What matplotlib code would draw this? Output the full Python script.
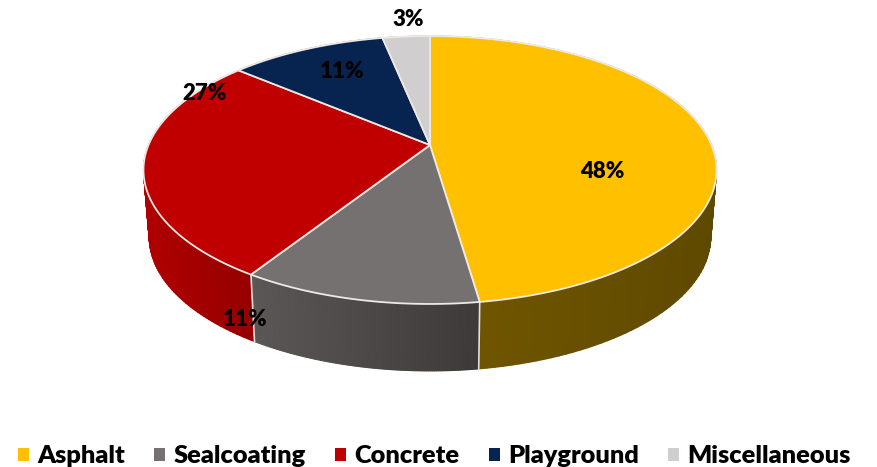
import numpy as np
import matplotlib
matplotlib.use("Agg")
import matplotlib.pyplot as plt
from matplotlib.colors import LinearSegmentedColormap
from matplotlib.patches import Polygon, Patch

categories = ["Asphalt", "Sealcoating", "Concrete", "Playground", "Miscellaneous"]
shares = [47.7, 11.3, 27.2, 10.6, 3.2]

colors = ["#FFC000", "#767171", "#C00000", "#07234F", "#D0CECE"]
# wall colour at the left and the right end of each slice's side
wall_colors = [("#735800", "#5F4900"), ("#5C5757", "#3E3A3A"), ("#B00000", "#960000"),
               ("#04142E", "#04142E"), ("#7D7C7C", "#7D7C7C")]
label_xy = [(602, 171), (245, 319), (205, 93), (342, 71), (408, 20)]

plt.rcParams['font.family'] = ['Lato', 'DejaVu Sans']

# perspective of the disc, in pixels of the picture
cx, cy = 430, 145
rx, ry, k = 281.5, 129.3, 0.1866
shrink, depth = 0.98, 67


def rim(deg):
    t = np.radians(deg)
    u, v = np.sin(t), np.cos(t)
    w = 1 + k * v
    return cx + rx * u / w, cy - ry * v / w


def lower(x, y):
    return cx + (x - cx) * shrink, y + depth


fig = plt.figure(figsize=(8.78, 4.67), dpi=100)
ax = fig.add_axes([0, 0, 1, 1])
ax.set_xlim(0, 878)
ax.set_ylim(467, 0)
ax.axis("off")

edges = 360 * np.cumsum([0] + shares) / sum(shares)

# side wall first, top goes over it
for i in range(len(shares)):
    a = np.linspace(edges[i], edges[i + 1], 120)
    x, y = rim(a)
    xb, yb = lower(x, y)
    f = (x - x.min()) / (x.max() - x.min())
    cmap = LinearSegmentedColormap.from_list("wall", wall_colors[i])
    ax.pcolormesh(np.vstack([x, xb]), np.vstack([y, yb]), np.vstack([f, f]),
                  shading="gouraud", cmap=cmap, vmin=0, vmax=1, zorder=1)

# seams on the wall
for e in edges[1:3]:
    x, y = rim(e)
    xb, yb = lower(x, y)
    ax.plot([x, xb], [y, yb], color="#E4E2DE", lw=1.2, zorder=2)

# top of the disc
for i in range(len(shares)):
    a = np.linspace(edges[i], edges[i + 1], 200)
    x, y = rim(a)
    pts = np.column_stack([np.r_[cx, x], np.r_[cy, y]])
    ax.add_patch(Polygon(pts, closed=True, facecolor=colors[i], edgecolor="#EFE9E4", lw=1.3, zorder=3))

for v, (lx, ly) in zip(shares, label_xy):
    ax.text(lx, ly, f"{v:.0f}%", ha="center", va="center", fontsize=16, fontweight="heavy", color="black", zorder=5)

handles = [Patch(facecolor=c, edgecolor="none") for c in colors]
leg = ax.legend(handles, categories, ncol=5, loc="lower center", bbox_to_anchor=(0.4949, -0.05),
                frameon=False, handlelength=0.43, handleheight=0.43, handletextpad=0.33, columnspacing=1.15,
                prop={"size": 18.3, "weight": "heavy"})

fig.savefig("out.png", dpi=100)
